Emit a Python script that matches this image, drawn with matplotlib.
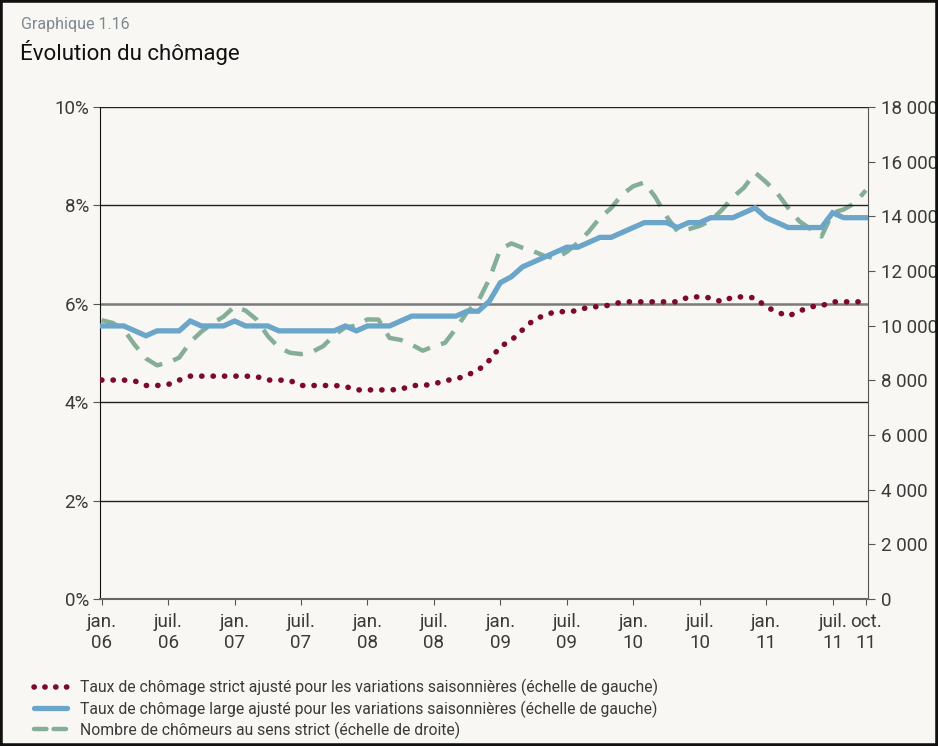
import numpy as np
import matplotlib
matplotlib.use("Agg")
from matplotlib import pyplot as plt
from matplotlib.lines import Line2D
from matplotlib.patches import Rectangle

# monthly data, jan. 2006 -> oct. 2011
taux_strict = [4.45, 4.45, 4.45, 4.43, 4.34, 4.34, 4.36, 4.45, 4.53, 4.53,
               4.53, 4.53, 4.53, 4.53, 4.52, 4.45, 4.45, 4.44, 4.34, 4.34,
               4.34, 4.34, 4.32, 4.25, 4.25, 4.25, 4.25, 4.26, 4.34, 4.34,
               4.37, 4.44, 4.47, 4.55, 4.65, 4.85, 5.13, 5.26, 5.47, 5.67,
               5.77, 5.84, 5.84, 5.86, 5.94, 5.94, 5.98, 6.04, 6.04, 6.04,
               6.04, 6.04, 6.04, 6.14, 6.14, 6.12, 6.04, 6.14, 6.14, 6.12,
               5.94, 5.83, 5.75, 5.85, 5.94, 5.96, 6.04, 6.04, 6.04, 6.04]
taux_large = [5.55, 5.55, 5.55, 5.45, 5.35, 5.45, 5.45, 5.45, 5.65, 5.55,
              5.55, 5.55, 5.65, 5.55, 5.55, 5.55, 5.45, 5.45, 5.45, 5.45,
              5.45, 5.45, 5.55, 5.45, 5.55, 5.55, 5.55, 5.65, 5.75, 5.75,
              5.75, 5.75, 5.75, 5.85, 5.85, 6.05, 6.43, 6.55, 6.75, 6.85,
              6.95, 7.05, 7.15, 7.15, 7.25, 7.35, 7.35, 7.45, 7.55, 7.65,
              7.65, 7.65, 7.55, 7.65, 7.65, 7.75, 7.75, 7.75, 7.85, 7.95,
              7.75, 7.65, 7.55, 7.55, 7.55, 7.55, 7.85, 7.75, 7.75, 7.75]
chomeurs = [10200, 10100, 9850, 9290, 8800, 8550, 8650, 8830, 9400, 9780,
            10080, 10330, 10700, 10550, 10220, 9620, 9200, 9010, 8960, 9040,
            9250, 9650, 9940, 10000, 10230, 10220, 9550, 9480, 9300, 9085,
            9250, 9370, 9900, 10500, 10890, 11700, 12800, 13010, 12850, 12720,
            12550, 12460, 12700, 13030, 13450, 13950, 14300, 14800, 15100, 15240,
            14700, 14000, 13450, 13530, 13650, 13850, 14230, 14700, 15050, 15600,
            15250, 14850, 14300, 13820, 13540, 13260, 14130, 14250, 14480, 14950]

tick_months = [0, 6, 12, 18, 24, 30, 36, 42, 48, 54, 60, 66, 69]
tick_labels = ["jan.\n06", "juil.\n06", "jan.\n07", "juil.\n07", "jan.\n08",
               "juil.\n08", "jan.\n09", "juil.\n09", "jan.\n10", "juil.\n10",
               "jan.\n11", "juil.\n11", "oct.\n11"]
left_ticks = [0, 2, 4, 6, 8, 10]
right_ticks = list(range(0, 18001, 2000))

legend_labels = [
    "Taux de chômage strict ajusté pour les variations saisonnières (échelle de gauche)",
    "Taux de chômage large ajusté pour les variations saisonnières (échelle de gauche)",
    "Nombre de chômeurs au sens strict (échelle de droite)",
]

BG = "#f8f7f3"
RED = "#7d0a2a"
BLUE = "#6ba5c9"
GREEN = "#85ae98"
TXT = "#3a3a3a"

plt.rcParams["font.family"] = ["Roboto", "DejaVu Sans"]

fig = plt.figure(figsize=(9.38, 7.46), dpi=100, facecolor=BG)
ax = fig.add_axes([0.1066, 0.197, 0.8188, 0.6596], facecolor=BG)
ax2 = ax.twinx()

months = np.arange(len(taux_strict))

for y in [2, 4, 8, 10]:
    ax.axhline(y, color="#222222", lw=1.0, zorder=1)
ax.axhline(6, color="#7a7a7a", lw=1.8, zorder=1)

ax.plot(months, taux_strict, color=RED, lw=4.0,
        linestyle=(0, (0.05, 2.0)), dash_capstyle="round", zorder=3)
ax.plot(months, taux_large, color=BLUE, lw=3.8, zorder=4,
        solid_joinstyle="miter")
ax2.plot(months, chomeurs, color=GREEN, lw=3.2,
         linestyle=(0, (4.2, 2.6)), zorder=3)
ax.set_zorder(ax2.get_zorder() + 1)
ax.patch.set_visible(False)
ax2.patch.set_facecolor(BG)

ax.set_xlim(-0.15, 69.2)
ax.set_ylim(0, 10)
ax2.set_ylim(0, 18000)

ax.set_yticks(left_ticks)
ax.set_yticklabels([f"{v}%" for v in left_ticks])
ax2.set_yticks(right_ticks)
ax2.set_yticklabels([f"{v:,}".replace(",", " ") for v in right_ticks])
ax.set_xticks(tick_months)
ax.set_xticklabels(tick_labels, linespacing=1.25)

for a in (ax, ax2):
    for s in a.spines.values():
        s.set_visible(False)
ax.spines["left"].set_visible(True)
ax.spines["left"].set_color("#111111")
ax.spines["bottom"].set_visible(True)
ax.spines["bottom"].set_color("#666666")
ax.spines["bottom"].set_linewidth(1.5)
ax2.spines["right"].set_visible(True)
ax2.spines["right"].set_color("#555555")

ax.tick_params(axis="y", length=5, color="#555555", labelsize=13.5,
               labelcolor=TXT, pad=3)
ax.tick_params(axis="x", length=4, color="#555555", labelsize=13.5,
               labelcolor=TXT, pad=6)
ax2.tick_params(axis="y", length=5, color="#555555", labelsize=13.5,
                labelcolor=TXT, pad=4)

fig.text(0.022, 0.967, "Graphique 1.16", fontsize=11.5, color="#7d8890",
         va="center")
fig.text(0.021, 0.930, "Évolution du chômage", fontsize=16, color="#111111",
         va="center")

# legend proxies so the short handles show whole dots / dashes
handles = [
    Line2D([], [], color=RED, lw=4.0, linestyle=(0, (0.05, 1.9)),
           dash_capstyle="round"),
    Line2D([], [], color=BLUE, lw=3.8, solid_capstyle="round"),
    Line2D([], [], color=GREEN, lw=3.2, linestyle=(0, (2.8, 1.6)),
           dash_capstyle="round"),
]
fig.legend(handles, legend_labels, loc="upper left",
           bbox_to_anchor=(0.03, 0.098), frameon=False, fontsize=11.3,
           labelcolor=TXT, handlelength=2.1, handletextpad=0.8,
           labelspacing=0.25, borderaxespad=0)

fig.patches.append(Rectangle((0, 0), 1, 1, transform=fig.transFigure,
                             fill=False, edgecolor="#111111", lw=4))

fig.savefig("out.png", dpi=100, facecolor=BG)
